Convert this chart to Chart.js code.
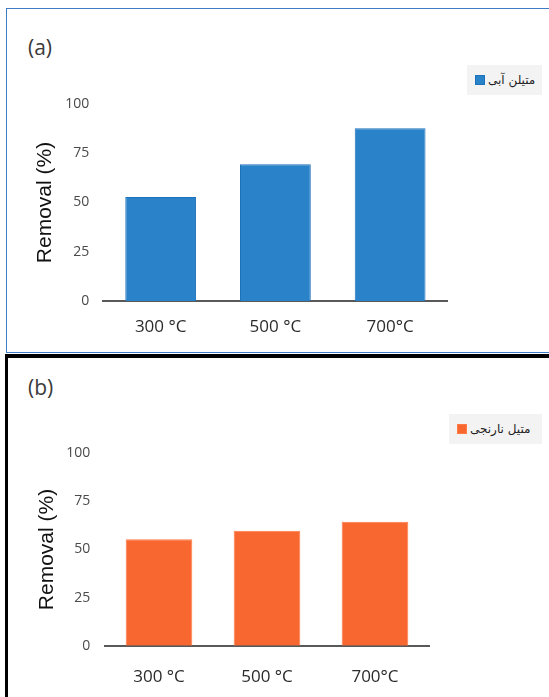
<!DOCTYPE html>
<html>
<head>
<meta charset="utf-8">
<script src="https://cdn.jsdelivr.net/npm/chart.js@4/dist/chart.umd.min.js"></script>
<style>
  html, body { margin: 0; padding: 0; background: #fff; }
  body { position: relative; width: 549px; height: 697px; overflow: hidden; }
  .frame-a { position: absolute; left: 6px; top: 7.5px; width: 600px; height: 345px;
             border: 1.5px solid #3f7cc6; box-sizing: border-box; }
  .frame-b { position: absolute; left: 5px; top: 354px; width: 600px; height: 400px;
             border-top: 4px solid #000; border-left: 3px solid #000; box-sizing: border-box; }
  canvas { position: absolute; left: 0; }
  .tag { position: absolute; left: 28px; font: 21px "Open Sans", sans-serif; color: #3a3a3a;
         line-height: 24px; }
  .legend { position: absolute; background: #f3f3f3; height: 30px; display: flex;
            align-items: center; box-sizing: border-box; padding-left: 8px; }
  .legend .sw { width: 10px; height: 10px; box-sizing: border-box; border: 1px solid; margin-right: 3px; }
  .legend .tx { font: 12px "DejaVu Sans", sans-serif; color: #222; direction: rtl; white-space: nowrap; }
</style>
</head>
<body>
<div class="frame-a"></div>
<div class="frame-b"></div>

<div class="tag" id="tagA" style="top:35px"></div>
<div class="tag" id="tagB" style="top:375px"></div>

<canvas id="chartA" width="549" height="352" style="top:0"></canvas>
<canvas id="chartB" width="549" height="339" style="top:358px"></canvas>

<div class="legend" id="legA" style="left:467px; top:65px; width:75px"></div>
<div class="legend" id="legB" style="left:449px; top:414px; width:93px"></div>

<script>
// Calcination temperatures on the x axis
const categories = ['300 °C', '500 °C', '700°C'];
// Dye removal (%) for each temperature
const methyleneBlue = [52.8, 69.4, 87.7];
const methylOrange = [55.3, 59.8, 64.4];
// Value axis
const yTicks = [0, 25, 50, 75, 100];
const yTitle = 'Removal (%)';
// Series names and panel tags
const seriesNames = ['متیلن آبی', 'متیل نارنجی'];
const panelTags = ['(a)', '(b)'];

const yMin = yTicks[0];
const yMax = yTicks[yTicks.length - 1];
const yStep = yTicks[1] - yTicks[0];

function buildChart(id, name, values, fill, edge, geo) {
  return new Chart(document.getElementById(id), {
    type: 'bar',
    data: {
      labels: categories,
      datasets: [{
        label: name,
        data: values,
        backgroundColor: fill,
        borderColor: edge,
        borderWidth: 1,
        categoryPercentage: 1,
        barPercentage: 0.617
      }]
    },
    options: {
      responsive: false,
      animation: false,
      devicePixelRatio: 1,
      layout: { padding: { left: 0, top: geo.top, right: geo.right, bottom: 0 } },
      plugins: { legend: { display: false }, tooltip: { enabled: false } },
      scales: {
        x: {
          grid: { display: false, drawTicks: false },
          border: { display: true, color: '#595959', width: 2 },
          ticks: { padding: geo.xPad, color: '#2b2b2b', font: { family: 'Open Sans', size: 17 } },
          afterFit(s) { s.height = geo.xH; }
        },
        y: {
          min: yMin, max: yMax,
          grid: { display: false, drawTicks: false },
          border: { display: false },
          ticks: { stepSize: yStep, padding: geo.yPad, color: '#4a4a4a',
                   font: { family: 'Open Sans', size: 14 } },
          title: { display: true, text: yTitle, color: '#111',
                   font: { family: 'Liberation Sans', size: 21 },
                   padding: { top: geo.titlePad, bottom: 0 } },
          afterFit(s) { s.width = geo.yW; }
        }
      }
    }
  });
}

function buildLegend(id, chart) {
  const ds = chart.data.datasets[0];
  const box = document.getElementById(id);
  const sw = document.createElement('span');
  sw.className = 'sw';
  sw.style.background = ds.backgroundColor;
  sw.style.borderColor = ds.borderColor;
  const tx = document.createElement('span');
  tx.className = 'tx';
  tx.textContent = ds.label;
  box.appendChild(sw);
  box.appendChild(tx);
}

document.getElementById('tagA').textContent = panelTags[0];
document.getElementById('tagB').textContent = panelTags[1];

const chartA = buildChart('chartA', seriesNames[0], methyleneBlue, '#2a82c8', '#1d72bc',
  { top: 104, right: 101.5, yW: 103.3, yPad: 14, titlePad: 33, xH: 51, xPad: 16 });
const chartB = buildChart('chartB', seriesNames[1], methylOrange, '#f8672f', '#ff7a45',
  { top: 95.3, right: 120, yW: 105, yPad: 14.7, titlePad: 34.7, xH: 51.3, xPad: 21.5 });

buildLegend('legA', chartA);
buildLegend('legB', chartB);
</script>
</body>
</html>
